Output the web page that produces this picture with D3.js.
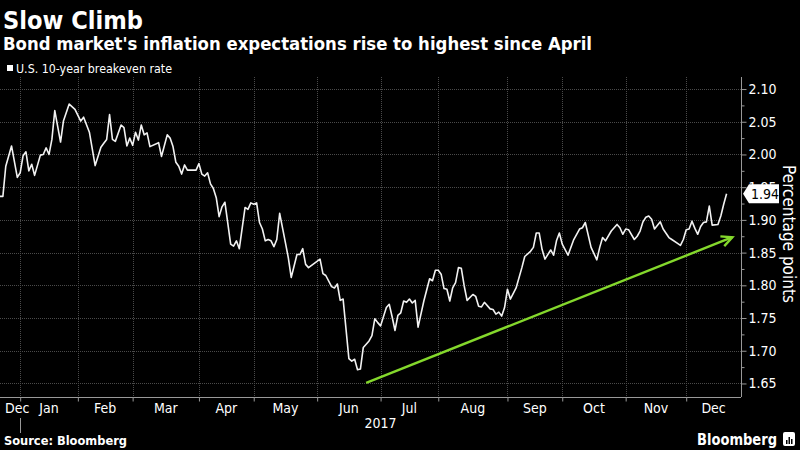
<!DOCTYPE html>
<html><head><meta charset="utf-8">
<script src="https://cdn.jsdelivr.net/npm/d3@7"></script>
<style>
body{margin:0;background:#000;}
svg{display:block;}
.cond{font-family:'DejaVu Sans Condensed','Liberation Sans Narrow','DejaVu Sans',sans-serif;font-stretch:condensed;}
.bold{font-family:'DejaVu Sans','Liberation Sans',sans-serif;font-weight:bold;}
</style>
</head><body>
<svg id="chart" width="800" height="450"></svg>
<script>
// ---- data ----
// trading-session index (0 = 21 Dec 2016) and U.S. 10-year breakeven rate (%)
const sessions = [0,1,2,4,6,7,8,9,10,11,12,14,15,16,17,18,19,21,22,24,26,28,29,31,33,35,36,37,38,39,40,42,43,44,45,46,47,48,49,50,51,52,55,56,58,59,60,61,62,63,64,65,68,69,70,71,72,73,74,75,76,77,78,80,81,82,83,85,86,87,88,89,90,91,92,93,94,95,96,97,99,100,101,103,104,105,106,107,111,112,113,115,116,117,118,119,121,122,123,124,125,126,128,129,130,131,132,134,135,136,137,138,139,140,141,142,143,144,145,147,149,150,151,152,153,154,155,156,157,158,159,160,161,162,164,165,166,167,168,170,171,172,173,174,175,176,177,179,181,182,184,185,186,187,188,189,191,192,193,194,195,197,199,201,202,203,205,207,208,209,210,212,213,214,215,216,217,218,220,221,222,223,224,225,226,227,229,230,232,233,235,236,237,238,239,240,241,242,243,244,245,246,247,249,250,251,252];
const rates = [1.936,1.936,1.982,2.013,1.965,1.972,1.998,2.004,1.975,1.985,1.968,1.999,2.000,2.010,2.000,2.023,2.067,2.019,2.051,2.077,2.069,2.051,2.057,2.034,1.983,2.011,2.017,2.023,2.061,2.023,2.020,2.045,2.041,2.013,2.025,2.014,2.034,2.022,2.045,2.030,2.033,2.012,2.018,1.997,2.030,2.025,2.012,1.988,1.982,1.970,1.984,1.976,1.976,1.986,1.970,1.967,1.972,1.955,1.948,1.934,1.905,1.920,1.927,1.863,1.860,1.868,1.856,1.919,1.916,1.926,1.924,1.926,1.896,1.886,1.868,1.870,1.868,1.859,1.870,1.910,1.865,1.842,1.812,1.847,1.847,1.856,1.832,1.827,1.840,1.818,1.815,1.798,1.796,1.802,1.777,1.779,1.688,1.684,1.687,1.671,1.672,1.705,1.715,1.723,1.749,1.743,1.738,1.766,1.771,1.752,1.731,1.754,1.758,1.776,1.774,1.779,1.773,1.777,1.736,1.776,1.810,1.807,1.823,1.823,1.817,1.795,1.794,1.776,1.796,1.804,1.827,1.826,1.799,1.777,1.786,1.783,1.768,1.767,1.774,1.764,1.763,1.756,1.759,1.753,1.766,1.794,1.779,1.796,1.827,1.844,1.852,1.858,1.880,1.880,1.855,1.840,1.854,1.846,1.868,1.880,1.863,1.846,1.870,1.886,1.888,1.896,1.858,1.839,1.858,1.873,1.868,1.883,1.888,1.893,1.888,1.878,1.886,1.885,1.870,1.875,1.883,1.897,1.904,1.906,1.901,1.886,1.897,1.886,1.873,1.870,1.864,1.861,1.870,1.885,1.886,1.898,1.887,1.878,1.890,1.896,1.897,1.921,1.892,1.893,1.906,1.924,1.940];
const monthLabels = ["Dec","Jan","Feb","Mar","Apr","May","Jun","Jul","Aug","Sep","Oct","Nov","Dec"];
const monthStarts = [0,7,27,46,69,88,110,132,152,176,195,217,238];
const totalSessions = 257;
const yearLabel = "2017";
const yTicks = [1.65,1.70,1.75,1.80,1.85,1.90,1.95,2.00,2.05,2.10];
const yMinorTicks = [1.675,1.725,1.775,1.825,1.875,1.925,1.975,2.025,2.075];
const yDomain = [1.6293, 2.1184];
const trendSessions = [127, 254];
const trendValues = [1.651, 1.8735];
const lastLabel = "1.94";

// ---- layout ----
const svg = d3.select("#chart");
const W = 800, H = 450;
const plot = {left:0, right:741, top:77, bottom:397};
svg.append("rect").attr("width",W).attr("height",H).attr("fill","#000");

const x = d3.scaleLinear().domain([0,totalSessions]).range([plot.left, plot.right]);
const y = d3.scaleLinear().domain(yDomain).range([plot.bottom, plot.top]);

// titles
function fitText(sel, w){ sel.attr("textLength", w).attr("lengthAdjust","spacingAndGlyphs"); }
svg.append("text").attr("class","bold").attr("x",3).attr("y",29).attr("font-size",25)
  .attr("fill","#fff").text("Slow Climb").call(fitText,140);
svg.append("text").attr("class","bold").attr("x",3).attr("y",50).attr("font-size",18)
  .attr("fill","#fff").text("Bond market's inflation expectations rise to highest since April").call(fitText,589);
svg.append("rect").attr("x",7).attr("y",65).attr("width",6).attr("height",6).attr("fill","#fff");
svg.append("text").attr("class","cond").attr("x",16).attr("y",72.5).attr("font-size",12.5)
  .attr("fill","#fff").text("U.S. 10-year breakeven rate").call(fitText,156);

// grid
const grid = svg.append("g").attr("stroke","#4a4a4a").attr("stroke-width",1).attr("stroke-dasharray","1,1");
grid.selectAll("line.h").data(yTicks).join("line")
  .attr("x1",plot.left).attr("x2",plot.right)
  .attr("y1",d=>Math.round(y(d))+0.5).attr("y2",d=>Math.round(y(d))+0.5);
grid.selectAll("line.v").data(monthStarts.slice(1)).join("line")
  .attr("y1",plot.top).attr("y2",plot.bottom)
  .attr("x1",d=>Math.round(x(d))+0.5).attr("x2",d=>Math.round(x(d))+0.5);

// right axis
const yAxis = d3.axisRight(y).tickValues(yTicks).tickFormat(d3.format(".2f")).tickSize(5).tickPadding(2);
const gy = svg.append("g").attr("transform",`translate(${plot.right+0.5},0)`).call(yAxis);
gy.select(".domain").attr("stroke","#999").attr("d",`M0,${plot.top}V${plot.bottom}`);
gy.selectAll(".tick line").attr("stroke","#999");
gy.selectAll(".tick text").attr("class","cond").attr("fill","#fff").attr("font-size",14);
const yMinor = d3.axisRight(y).tickValues(yMinorTicks).tickSize(3).tickFormat("");
const gym = svg.append("g").attr("transform",`translate(${plot.right+0.5},0)`).call(yMinor);
gym.select(".domain").remove();
gym.selectAll(".tick line").attr("stroke","#999");

// bottom axis
const xAxis = d3.axisBottom(x).tickValues(monthStarts.slice(1)).tickSize(4).tickFormat("");
const gx = svg.append("g").attr("transform",`translate(0,${plot.bottom+0.5})`).call(xAxis);
gx.select(".domain").attr("stroke","#999").attr("d",`M${plot.left},0H${plot.right}`);
gx.selectAll(".tick line").attr("stroke","#999");

// month labels centred in their month span
const bounds = monthStarts.concat([totalSessions]);
const ml = svg.append("g");
monthLabels.forEach((m,i)=>{
  let cx = x((bounds[i] + bounds[i+1])/2);
  const t = ml.append("text").attr("class","cond").attr("fill","#fff").attr("font-size",14)
    .attr("text-anchor","middle").attr("y",413).text(m);
  const w = t.node().getComputedTextLength();
  if (cx - w/2 < 5) cx = 5 + w/2;
  t.attr("x",cx);
});
// year separator and year label
svg.append("line").attr("x1",Math.round(x(monthStarts[1]))+0.5).attr("x2",Math.round(x(monthStarts[1]))+0.5)
  .attr("y1",418).attr("y2",433).attr("stroke","#999");
svg.append("text").attr("class","cond").attr("fill","#fff").attr("font-size",14).attr("text-anchor","middle")
  .attr("x",x((monthStarts[1]+totalSessions)/2)).attr("y",428).text(yearLabel);

// y-axis title
svg.append("text").attr("class","cond").attr("fill","#fff").attr("font-size",17).attr("text-anchor","middle")
  .attr("transform",`translate(783,234) rotate(90)`).text("Percentage points");

// data line
const pts = sessions.map((s,i)=>[s,rates[i]]);
svg.append("path").datum(pts)
  .attr("fill","none").attr("stroke","#f2f2f2").attr("stroke-width",1.6).attr("stroke-linejoin","round")
  .attr("d", d3.line().x(d=>x(d[0])).y(d=>y(d[1])));

// trend arrow
const tx0 = x(trendSessions[0]), ty0 = y(trendValues[0]);
const tx1 = x(trendSessions[1]), ty1 = y(trendValues[1]);
svg.append("line").attr("x1",tx0).attr("y1",ty0).attr("x2",tx1).attr("y2",ty1)
  .attr("stroke","#84d82c").attr("stroke-width",2.4);
const ang = Math.atan2(ty1-ty0, tx1-tx0), L = 12, spread = 0.45;
svg.append("path").attr("fill","none").attr("stroke","#84d82c").attr("stroke-width",2.4).attr("stroke-linejoin","miter")
  .attr("d",`M${tx1-L*Math.cos(ang-spread)},${ty1-L*Math.sin(ang-spread)}L${tx1},${ty1}L${tx1-L*Math.cos(ang+spread)},${ty1-L*Math.sin(ang+spread)}`);

// last value tag
const ly = y(rates[rates.length-1]);
svg.append("path").attr("fill","#fff")
  .attr("d",`M${plot.right+2},${ly}L${plot.right+8},${ly-9.5}H${plot.right+38}V${ly+9.5}H${plot.right+8}Z`);
svg.append("text").attr("class","cond").attr("fill","#000").attr("font-size",14)
  .attr("x",plot.right+10).attr("y",ly).attr("dy","0.35em").text(lastLabel);

// footer
svg.append("text").attr("class","bold").attr("fill","#fff").attr("font-size",12)
  .attr("x",4).attr("y",445).text("Source: Bloomberg").call(fitText,123);
svg.append("text").attr("class","bold").attr("fill","#fff").attr("font-size",15)
  .attr("x",697).attr("y",445).text("Bloomberg").call(fitText,80);
svg.append("rect").attr("x",783).attr("y",432).attr("width",12).attr("height",14).attr("rx",2).attr("fill","#fff");
svg.append("g").attr("fill","#000").selectAll("rect").data([[786,440,1.5,4],[788.5,437,1.5,7],[791,439,1.5,5]]).join("rect")
  .attr("x",d=>d[0]).attr("y",d=>d[1]).attr("width",d=>d[2]).attr("height",d=>d[3]);
</script>
</body></html>
